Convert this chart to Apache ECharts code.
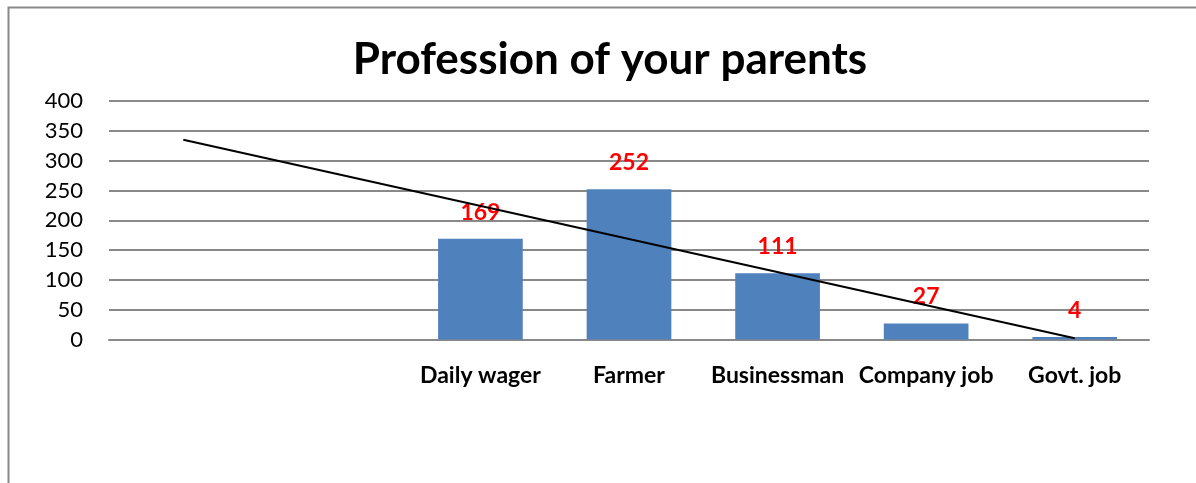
<!DOCTYPE html>
<html>
<head>
<meta charset="utf-8">
<script src="https://cdn.jsdelivr.net/npm/echarts@6/dist/echarts.min.js"></script>
<style>
  html, body { margin: 0; padding: 0; background: #fff; }
  #chart { width: 1196px; height: 483px; }
</style>
</head>
<body>
<div id="chart"></div>
<script>
  // 数据
  const categories = ['', '', 'Daily wager', 'Farmer', 'Businessman', 'Company job', 'Govt. job'];
  const counts = [null, null, 169, 252, 111, 27, 4];
  // 趋势线 (两端读数)
  const trend = [335, null, null, null, null, null, 2];
  const yTicks = { min: 0, max: 400, interval: 50 };

  const fontName = 'Lato, "Liberation Sans", sans-serif';
  const chart = echarts.init(document.getElementById('chart'));

  const option = {
    animation: false,
    title: {
      text: 'Profession of your parents',
      left: 605,
      textAlign: 'center',
      top: 33,
      textStyle: { fontFamily: fontName, fontSize: 44, fontWeight: 'bold', color: '#000' },
    },
    graphic: [
      {
        type: 'rect',
        shape: { x: 8.5, y: 7.5, width: 1300, height: 600 },
        style: { fill: 'none', stroke: '#898989', lineWidth: 2 },
        silent: true,
      },
    ],
    grid: { left: 109, right: 47, top: 101, bottom: 143.5 },
    xAxis: {
      type: 'category',
      data: categories,
      axisTick: { show: false },
      axisLine: { show: true, lineStyle: { color: '#898989', width: 2 } },
      axisLabel: {
        interval: 0,
        margin: 25,
        fontFamily: fontName,
        fontSize: 23,
        fontWeight: 'bold',
        color: '#000',
      },
    },
    yAxis: {
      type: 'value',
      min: yTicks.min,
      max: yTicks.max,
      interval: yTicks.interval,
      axisLine: { show: false },
      axisTick: { show: false },
      splitLine: { lineStyle: { color: '#898989', width: 2 } },
      axisLabel: { margin: 26, fontFamily: fontName, fontSize: 22, color: '#000' },
    },
    series: [
      {
        type: 'bar',
        data: counts,
        barWidth: '57%',
        itemStyle: { color: '#4F81BD' },
        label: {
          show: true,
          position: 'top',
          distance: 15,
          fontFamily: fontName,
          fontSize: 23,
          fontWeight: 'bold',
          color: '#FF0000',
        },
        z: 2,
      },
      {
        type: 'line',
        data: trend,
        connectNulls: true,
        symbol: 'none',
        lineStyle: { color: '#000', width: 2 },
        z: 3,
      },
    ],
  };

  chart.setOption(option);
</script>
</body>
</html>
